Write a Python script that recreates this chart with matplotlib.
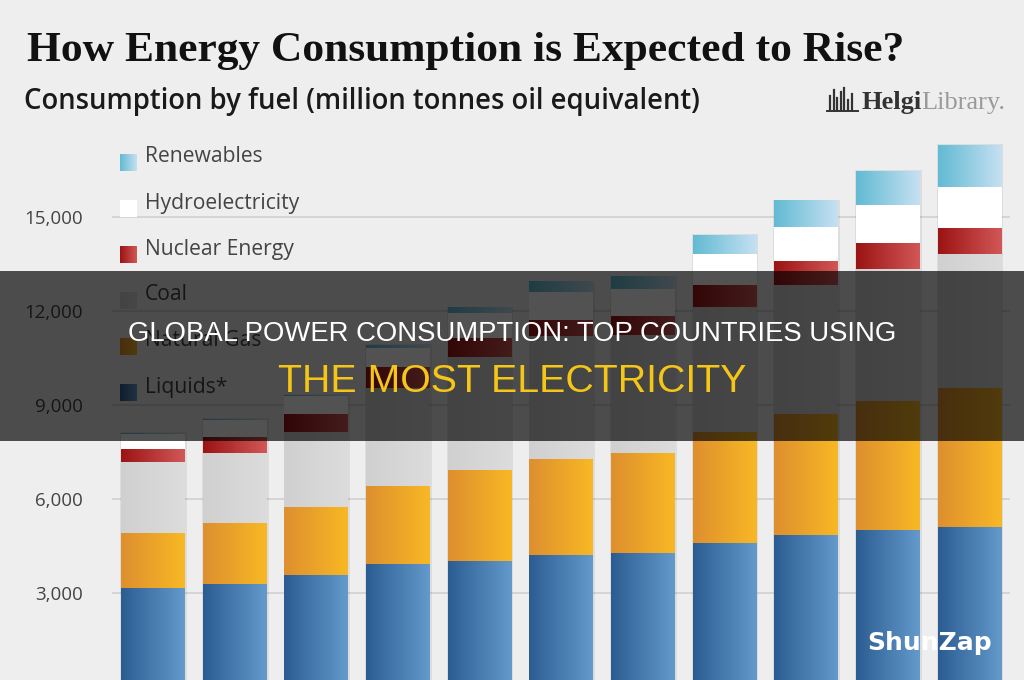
import numpy as np
import matplotlib
matplotlib.use("Agg")
import matplotlib.pyplot as plt
from matplotlib import font_manager
from matplotlib.colors import LinearSegmentedColormap
from matplotlib.patches import Rectangle

# consumption by fuel, million tonnes oil equivalent (stack order bottom -> top)
liquids = [3160, 3290, 3575, 3925, 4020, 4215, 4275, 4595, 4850, 5010, 5105]
natural_gas = [1755, 1945, 2170, 2490, 2905, 3065, 3195, 3545, 3860, 4120, 4440]
coal = [2265, 2235, 2395, 3130, 3605, 3925, 3765, 3990, 4120, 4215, 4275]
nuclear = [415, 510, 575, 670, 605, 510, 605, 700, 765, 830, 830]
hydro = [480, 545, 577, 610, 800, 895, 860, 990, 1085, 1215, 1310]
renewables = [30, 30, 30, 95, 160, 320, 385, 605, 830, 1085, 1340]

series_names = ["Liquids*", "Natural Gas", "Coal", "Nuclear Energy", "Hydroelectricity", "Renewables"]
y_ticks = [3000, 6000, 9000, 12000, 15000]

# left / right colour of each horizontal gradient
grad_colors = {
    "Liquids*": ("#2c5d92", "#6399cb"),
    "Natural Gas": ("#de8f2f", "#f8b824"),
    "Coal": ("#d0d0d0", "#dcdcdc"),
    "Nuclear Energy": ("#9c1414", "#d25757"),
    "Hydroelectricity": ("#ffffff", "#ffffff"),
    "Renewables": ("#62bbd3", "#c6e0f2"),
}


def pick_font(*names):
    avail = {f.name for f in font_manager.fontManager.ttflist}
    for n in names:
        if n in avail:
            return n
    return "DejaVu Sans"


SANS = pick_font("Open Sans", "Noto Sans", "DejaVu Sans")
ARIAL = pick_font("Liberation Sans", "DejaVu Sans")
SERIF = pick_font("Liberation Serif", "DejaVu Serif")

BG = "#eeeeee"


def gradient(ax, x0, x1, y0, y1, cl, cr, z=3):
    cmap = LinearSegmentedColormap.from_list("g", [cl, cr])
    ax.imshow(np.linspace(0, 1, 64).reshape(1, -1), extent=(x0, x1, y0, y1),
              cmap=cmap, aspect="auto", interpolation="bicubic", zorder=z)


fig = plt.figure(figsize=(10.24, 6.8), dpi=100, facecolor=BG)

# ---- main chart axes (bottom of the chart is cut by the picture edge)
ax = fig.add_axes([112 / 1024, 0, 898 / 1024, (680 - 135) / 680], facecolor=BG)
data = [liquids, natural_gas, coal, nuclear, hydro, renewables]
x = np.arange(len(liquids))
w = 0.775
bottom = np.zeros(len(x))
totals = np.sum(data, axis=0)

# soft shadow behind bars
ax.bar(x + 0.01, totals + 40, width=w + 0.04, color="black", alpha=0.07, zorder=2)

for name, vals in zip(series_names, data):
    cl, cr = grad_colors[name]
    for i in range(len(x)):
        gradient(ax, x[i] - w / 2, x[i] + w / 2, bottom[i], bottom[i] + vals[i], cl, cr)
    bottom += np.array(vals)

ax.set_xlim(-0.5, len(x) - 0.5)
ax.set_ylim(223, 17620)
ax.set_yticks(y_ticks)
ax.set_yticklabels([f"{v:,}" for v in y_ticks], fontsize=13.5, color="#444444", family=SANS)
ax.tick_params(axis="y", length=0, pad=21)
ax.set_xticks([])
ax.yaxis.grid(True, color="#d3d3d3", lw=1.3)
ax.set_axisbelow(True)
for s in ax.spines.values():
    s.set_visible(False)

# ---- decoration layer in pixel coordinates
ov = fig.add_axes([0, 0, 1, 1], facecolor="none")
ov.set_xlim(0, 1024)
ov.set_ylim(680, 0)
ov.axis("off")

ov.text(27, 61, "How Energy Consumption is Expected to Rise?", family=SERIF,
        fontweight="bold", fontsize=31.3, color="#111111", va="baseline", ha="left")
ov.text(24, 101, "Consumption by fuel (million tonnes oil equivalent)", family=SANS,
        fontweight="semibold", fontsize=19.8, color="#1a1a1a", va="center", ha="left")

# HelgiLibrary logo
for k, h in enumerate([14, 20, 12, 18, 22, 10, 16]):
    ov.plot([830 + k * 3.6, 830 + k * 3.6], [110, 110 - h], color="#333333", lw=1.6)
ov.plot([827, 858], [111, 111], color="#333333", lw=1.4)
helgi = ov.text(861, 109, "Helgi", family=SERIF, fontweight="bold", fontsize=19,
                color="#333333", va="baseline", ha="left")
fig.canvas.draw()
bb = helgi.get_window_extent()
ov.text(bb.x1 * 1024 / fig.bbox.width, 109, "Library.", family=SERIF, fontsize=19,
        color="#9a9a9a", va="baseline", ha="left")

# legend (top entry first)
legend_names = series_names[::-1]
for k, name in enumerate(legend_names):
    yc = 157 + 46 * k
    cl, cr = grad_colors[name]
    gradient(ov, 120, 137, yc + 14, yc - 3, cl, cr, z=4)
    ov.text(145, yc, name, family=SANS, fontsize=15.2, color="#444444",
            va="center", ha="left", zorder=5)

# dark caption band
ov.add_patch(Rectangle((0, 271), 1024, 170, color="black", alpha=0.68, zorder=10, lw=0))
ov.text(512, 334, "GLOBAL POWER CONSUMPTION: TOP COUNTRIES USING", family=ARIAL,
        fontsize=19.8, color="white", ha="center", va="center", zorder=11)
ov.text(512, 382, "THE MOST ELECTRICITY", family=ARIAL, fontsize=28.3,
        color="#f5c518", ha="center", va="center", zorder=11)

ov.text(930, 643, "ShunZap", family="DejaVu Sans", fontweight="bold", fontsize=18,
        color="white", ha="center", va="center", zorder=11)

fig.savefig("out.png", dpi=100, facecolor=BG)
